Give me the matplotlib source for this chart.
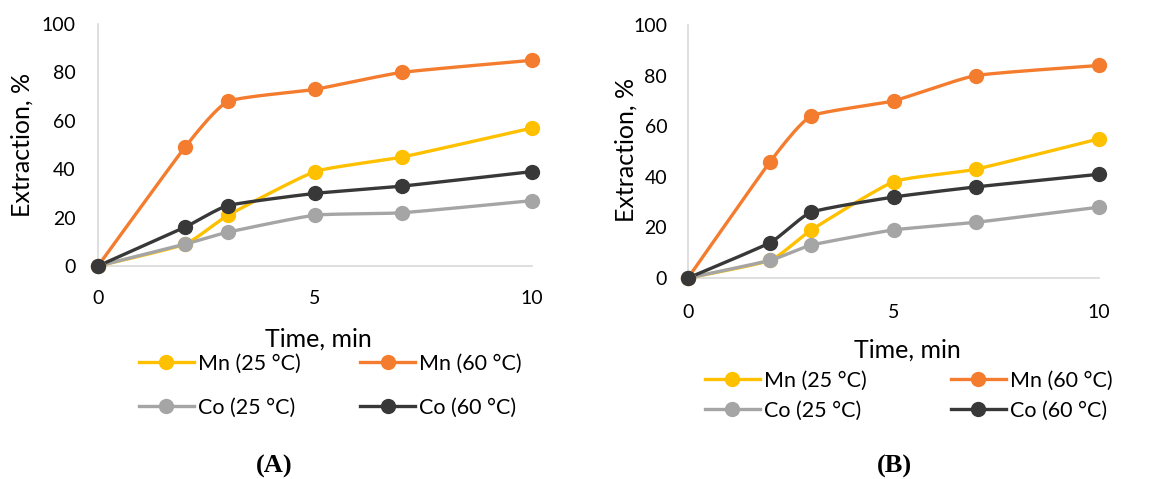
import matplotlib.pyplot as plt
import numpy as np
from matplotlib.lines import Line2D

plt.rcParams['font.family'] = ['Lato', 'DejaVu Sans']

# data
time = [0, 2, 3, 5, 7, 10]
labels = ['Mn (25 °C)', 'Mn (60 °C)', 'Co (25 °C)', 'Co (60 °C)']
colors = ['#FFC000', '#F47C2E', '#A5A5A5', '#383838']

a_mn25 = [0, 9, 21, 39, 45, 57]
a_mn60 = [0, 49, 68, 73, 80, 85]
a_co25 = [0, 9, 14, 21, 22, 27]
a_co60 = [0, 16, 25, 30, 33, 39]

b_mn25 = [0, 7, 19, 38, 43, 55]
b_mn60 = [0, 46, 64, 70, 80, 84]
b_co25 = [0, 7, 13, 19, 22, 28]
b_co60 = [0, 14, 26, 32, 36, 41]


# smooth line like excel (cardinal spline)
def smooth(x, y, n=30, t=0.5):
    x = np.asarray(x, float)
    y = np.asarray(y, float)
    xs, ys = [], []
    for i in range(len(x) - 1):
        p0 = np.array([x[max(i - 1, 0)], y[max(i - 1, 0)]])
        p1 = np.array([x[i], y[i]])
        p2 = np.array([x[i + 1], y[i + 1]])
        p3 = np.array([x[min(i + 2, len(x) - 1)], y[min(i + 2, len(x) - 1)]])
        m1 = t * (p2 - p0) / 2
        m2 = t * (p3 - p1) / 2
        s = np.linspace(0, 1, n)
        h00 = 2 * s**3 - 3 * s**2 + 1
        h10 = s**3 - 2 * s**2 + s
        h01 = -2 * s**3 + 3 * s**2
        h11 = s**3 - s**2
        pts = np.outer(h00, p1) + np.outer(h10, m1) + np.outer(h01, p2) + np.outer(h11, m2)
        xs.extend(pts[:, 0])
        ys.extend(pts[:, 1])
    return xs, ys


def draw_panel(ax, series):
    for vals, c in zip(series, colors):
        sx, sy = smooth(time, vals)
        ax.plot(sx, sy, color=c, lw=2.4, clip_on=False, zorder=3)
        ax.plot(time, vals, 'o', color=c, ms=10, clip_on=False, zorder=4)
    ax.set_xlim(0, 10)
    ax.set_ylim(0, 100)
    ax.set_xticks([0, 5, 10])
    ax.set_yticks(range(0, 101, 20))
    for s in ['top', 'right']:
        ax.spines[s].set_visible(False)
    for s in ['left', 'bottom']:
        ax.spines[s].set_color('#D9D9D9')
        ax.spines[s].set_linewidth(1.2)
    ax.tick_params(length=0, labelsize=14, colors='black')


fig = plt.figure(figsize=(11.67, 4.79), dpi=100)
W, H = 1167, 479

axA = fig.add_axes([98 / W, 1 - 266 / H, (532 - 98) / W, (266 - 24) / H])
draw_panel(axA, [a_mn25, a_mn60, a_co25, a_co60])
axA.tick_params(axis='x', pad=17)
axA.tick_params(axis='y', pad=16)

axB = fig.add_axes([688 / W, 1 - 278 / H, (1099 - 688) / W, (278 - 25) / H])
draw_panel(axB, [b_mn25, b_mn60, b_co25, b_co60])
axB.tick_params(axis='x', pad=19)
axB.tick_params(axis='y', pad=15)

fig.text(22 / W, 1 - 145 / H, 'Extraction, %', rotation=90, ha='center', va='center', fontsize=18)
fig.text(626 / W, 1 - 150 / H, 'Extraction, %', rotation=90, ha='center', va='center', fontsize=18)
fig.text(318 / W, 1 - 339 / H, 'Time, min', ha='center', va='center', fontsize=18)
fig.text(907 / W, 1 - 350 / H, 'Time, min', ha='center', va='center', fontsize=18)

# legend fills column by column, so reorder to get rows Mn / Co
order = [0, 2, 1, 3]
handles = [Line2D([], [], color=colors[i], lw=2.4, marker='o', ms=10) for i in order]
leg_labels = [labels[i] for i in order]

fig.legend(handles, leg_labels, ncol=2, loc='upper left', bbox_to_anchor=(139 / W, 1 - 354 / H),
           frameon=False, fontsize=15.5, handlelength=2.55, handletextpad=0.2,
           columnspacing=2.75, labelspacing=1.1, borderpad=0, borderaxespad=0)
fig.legend(handles, leg_labels, ncol=2, loc='upper left', bbox_to_anchor=(705 / W, 1 - 371 / H),
           frameon=False, fontsize=15.5, handlelength=2.55, handletextpad=0.2,
           columnspacing=3.9, labelspacing=0.45, borderpad=0, borderaxespad=0)

fig.text(274 / W, 1 - 466 / H, '(A)', ha='center', va='center', fontsize=19,
         family='Liberation Serif', fontweight='bold')
fig.text(894 / W, 1 - 466 / H, '(B)', ha='center', va='center', fontsize=19,
         family='Liberation Serif', fontweight='bold')

fig.savefig('out.png', dpi=100)
